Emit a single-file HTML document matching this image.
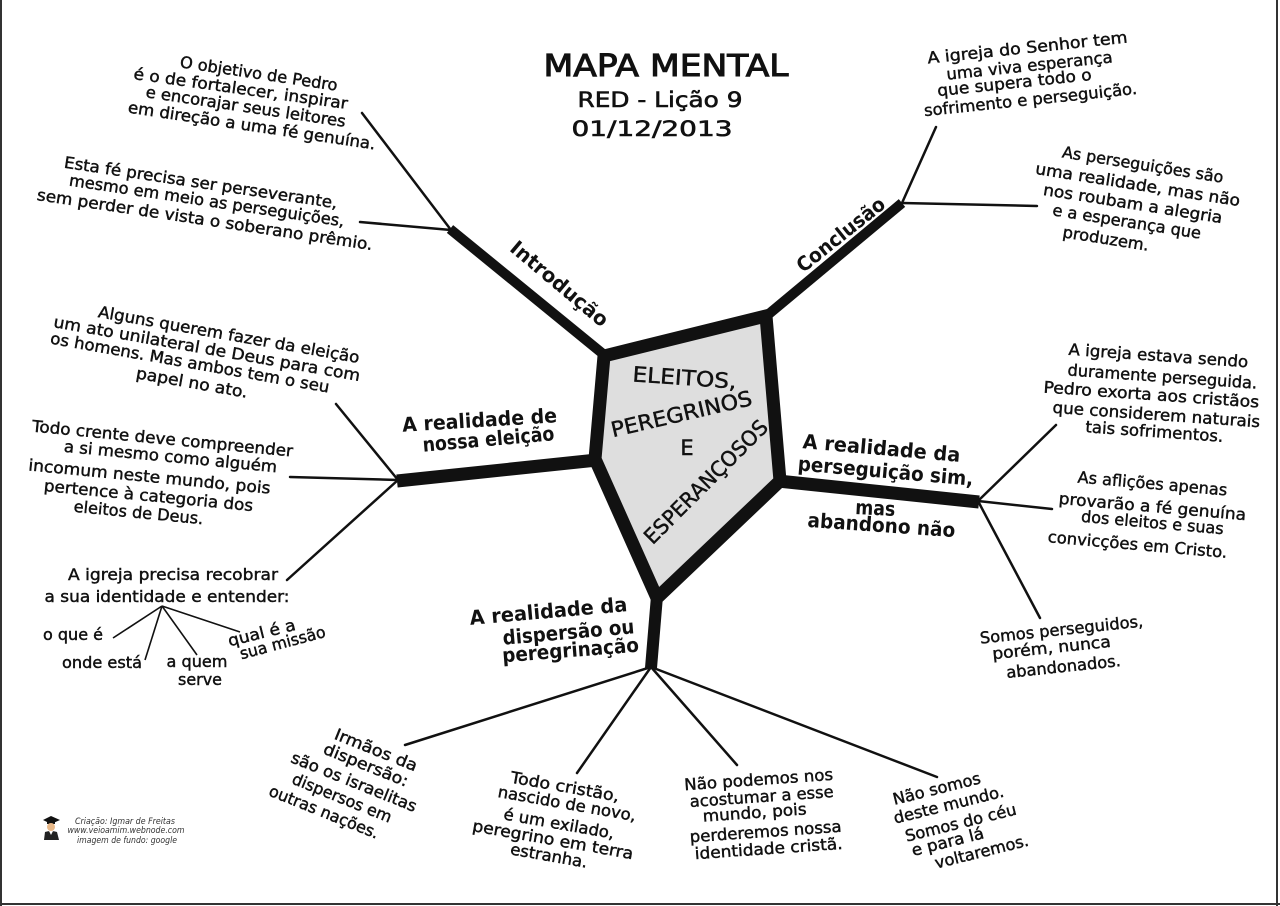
<!DOCTYPE html>
<html>
<head>
<meta charset="utf-8">
<style>
  html,body{margin:0;padding:0;background:#fff;}
  svg{display:block;}
  text{font-family:"DejaVu Sans","Liberation Sans",sans-serif;fill:#111;text-anchor:middle;}
  .b{font-size:16px;stroke:#111;stroke-width:0.45;}
  .l{font-size:20px;font-weight:bold;}
  .p{font-size:21px;stroke:#111;stroke-width:0.45;}
  .c{font-size:8.5px;font-style:italic;fill:#333;}
</style>
</head>
<body>
<svg width="1280" height="906" viewBox="0 0 1280 906" xmlns="http://www.w3.org/2000/svg">
  <rect x="0" y="0" width="1280" height="906" fill="#fff"/>
  <!-- frame -->
  <line x1="1" y1="0" x2="1" y2="906" stroke="#333" stroke-width="2"/>
  <line x1="1277" y1="0" x2="1277" y2="906" stroke="#333" stroke-width="2"/>
  <line x1="0" y1="904" x2="1280" y2="904" stroke="#333" stroke-width="2"/>

  <!-- title -->
  <text x="666" y="76" font-size="30" stroke="#111" stroke-width="1" textLength="245" lengthAdjust="spacingAndGlyphs">MAPA MENTAL</text>
  <text x="660" y="107" font-size="21" stroke="#111" stroke-width="0.6" textLength="165" lengthAdjust="spacingAndGlyphs">RED - Lição 9</text>
  <text x="652" y="136" font-size="21" stroke="#111" stroke-width="0.6" textLength="161" lengthAdjust="spacingAndGlyphs">01/12/2013</text>

  <!-- thick branches -->
  <g stroke="#111" stroke-linecap="butt" fill="none">
    <line x1="450" y1="229" x2="608" y2="358" stroke-width="10"/>
    <line x1="902" y1="203" x2="764" y2="318" stroke-width="10"/>
    <line x1="397" y1="481" x2="597" y2="460" stroke-width="13"/>
    <line x1="778" y1="481" x2="979" y2="502" stroke-width="13"/>
    <line x1="657" y1="596" x2="651" y2="668" stroke-width="12"/>
  </g>

  <!-- thin branches -->
  <g stroke="#111" stroke-width="2.5" stroke-linecap="round" fill="none">
    <line x1="451" y1="230" x2="362" y2="113"/>
    <line x1="451" y1="230" x2="360" y2="222"/>
    <line x1="902" y1="203" x2="936" y2="127"/>
    <line x1="902" y1="203" x2="1037" y2="206"/>
    <line x1="398" y1="480" x2="336" y2="404"/>
    <line x1="398" y1="480" x2="290" y2="477"/>
    <line x1="398" y1="480" x2="287" y2="580"/>
    <line x1="978" y1="501" x2="1056" y2="425"/>
    <line x1="978" y1="501" x2="1052" y2="509"/>
    <line x1="978" y1="501" x2="1040" y2="618"/>
    <line x1="651" y1="667" x2="405" y2="745"/>
    <line x1="651" y1="667" x2="577" y2="773"/>
    <line x1="651" y1="667" x2="737" y2="765"/>
    <line x1="651" y1="667" x2="937" y2="777"/>
  </g>
  <g stroke="#111" stroke-width="1.6" fill="none">
    <line x1="162" y1="606" x2="113" y2="638"/>
    <line x1="162" y1="606" x2="145" y2="660"/>
    <line x1="162" y1="606" x2="197" y2="655"/>
    <line x1="162" y1="606" x2="240" y2="632"/>
  </g>

  <!-- central pentagon -->
  <polygon points="604,356 766,316 780,481 657,598 595,459" fill="#dedede" stroke="#111" stroke-width="13" stroke-linejoin="miter"/>
  <text class="p" x="684" y="385" transform="rotate(4 684 385)" textLength="104" lengthAdjust="spacingAndGlyphs">ELEITOS,</text>
  <text class="p" x="683" y="421" transform="rotate(-13 683 421)" textLength="144" lengthAdjust="spacingAndGlyphs">PEREGRINOS</text>
  <text class="p" x="687" y="455">E</text>
  <text class="p" x="711" y="487" transform="rotate(-45 711 487)" textLength="165" lengthAdjust="spacingAndGlyphs">ESPERANÇOSOS</text>

  <!-- branch labels -->
  <text class="l" x="555" y="289" font-size="18" transform="rotate(40 555 289)" textLength="121" lengthAdjust="spacingAndGlyphs">Introdução</text>
  <text class="l" x="845" y="240" font-size="18" transform="rotate(-38.6 845 240)" textLength="107" lengthAdjust="spacingAndGlyphs">Conclusão</text>

  <text class="l" x="480" y="427" transform="rotate(-3.5 480 427)" textLength="155" lengthAdjust="spacingAndGlyphs">A realidade de</text>
  <text class="l" x="489" y="446" transform="rotate(-5 489 446)" textLength="132" lengthAdjust="spacingAndGlyphs">nossa eleição</text>

  <text class="l" x="881" y="455" transform="rotate(5 881 455)" textLength="158" lengthAdjust="spacingAndGlyphs">A realidade da</text>
  <text class="l" x="885" y="478" transform="rotate(5 885 478)" textLength="176" lengthAdjust="spacingAndGlyphs">perseguição sim,</text>
  <text class="l" x="875" y="515" transform="rotate(3 875 515)" textLength="40" lengthAdjust="spacingAndGlyphs">mas</text>
  <text class="l" x="881" y="532" transform="rotate(4 881 532)" textLength="148" lengthAdjust="spacingAndGlyphs">abandono não</text>

  <text class="l" x="549" y="618" transform="rotate(-5 549 618)" textLength="158" lengthAdjust="spacingAndGlyphs">A realidade da</text>
  <text class="l" x="569" y="639" transform="rotate(-5 569 639)" textLength="132" lengthAdjust="spacingAndGlyphs">dispersão ou</text>
  <text class="l" x="571" y="657" transform="rotate(-4.5 571 657)" textLength="137" lengthAdjust="spacingAndGlyphs">peregrinação</text>

  <!-- Block A -->
  <text class="b" x="258" y="79" transform="rotate(8.5 258 79)" textLength="159" lengthAdjust="spacingAndGlyphs">O objetivo de Pedro</text>
  <text class="b" x="240" y="94" transform="rotate(8 240 94)" textLength="216" lengthAdjust="spacingAndGlyphs">é o de fortalecer, inspirar</text>
  <text class="b" x="245" y="112" transform="rotate(8.5 245 112)" textLength="202" lengthAdjust="spacingAndGlyphs">e encorajar seus leitores</text>
  <text class="b" x="251" y="131" transform="rotate(8.5 251 131)" textLength="250" lengthAdjust="spacingAndGlyphs">em direção a uma fé genuína.</text>

  <!-- Block B -->
  <text class="b" x="200" y="188" transform="rotate(8.5 200 188)" textLength="276" lengthAdjust="spacingAndGlyphs">Esta fé precisa ser perseverante,</text>
  <text class="b" x="206" y="206" transform="rotate(8.5 206 206)" textLength="278" lengthAdjust="spacingAndGlyphs">mesmo em meio as perseguições,</text>
  <text class="b" x="204" y="225" transform="rotate(8.5 204 225)" textLength="339" lengthAdjust="spacingAndGlyphs">sem perder de vista o soberano prêmio.</text>

  <!-- Block C -->
  <text class="b" x="1028" y="53" transform="rotate(-6 1028 53)" textLength="201" lengthAdjust="spacingAndGlyphs">A igreja do Senhor tem</text>
  <text class="b" x="1030" y="71" transform="rotate(-6 1030 71)" textLength="167" lengthAdjust="spacingAndGlyphs">uma viva esperança</text>
  <text class="b" x="1015" y="88" transform="rotate(-6 1015 88)" textLength="155" lengthAdjust="spacingAndGlyphs">que supera todo o</text>
  <text class="b" x="1031" y="105" transform="rotate(-6 1031 105)" textLength="214" lengthAdjust="spacingAndGlyphs">sofrimento e perseguição.</text>

  <!-- Block D -->
  <text class="b" x="1142" y="170" transform="rotate(9 1142 170)" textLength="163" lengthAdjust="spacingAndGlyphs">As perseguições são</text>
  <text class="b" x="1137" y="190" transform="rotate(9 1137 190)" textLength="207" lengthAdjust="spacingAndGlyphs">uma realidade, mas não</text>
  <text class="b" x="1132" y="209" transform="rotate(9 1132 209)" textLength="181" lengthAdjust="spacingAndGlyphs">nos roubam a alegria</text>
  <text class="b" x="1126" y="227" transform="rotate(9 1126 227)" textLength="150" lengthAdjust="spacingAndGlyphs">e a esperança que</text>
  <text class="b" x="1105" y="244" transform="rotate(9 1105 244)" textLength="87" lengthAdjust="spacingAndGlyphs">produzem.</text>

  <!-- Block E -->
  <text class="b" x="228" y="340" transform="rotate(10 228 340)" textLength="265" lengthAdjust="spacingAndGlyphs">Alguns querem fazer da eleição</text>
  <text class="b" x="206" y="354" transform="rotate(10 206 354)" textLength="311" lengthAdjust="spacingAndGlyphs">um ato unilateral de Deus para com</text>
  <text class="b" x="189" y="368" transform="rotate(10 189 368)" textLength="283" lengthAdjust="spacingAndGlyphs">os homens. Mas ambos tem o seu</text>
  <text class="b" x="191" y="388" transform="rotate(10 191 388)" textLength="113" lengthAdjust="spacingAndGlyphs">papel no ato.</text>

  <!-- Block F -->
  <text class="b" x="162" y="444" transform="rotate(5.5 162 444)" textLength="262" lengthAdjust="spacingAndGlyphs">Todo crente deve compreender</text>
  <text class="b" x="170" y="462" transform="rotate(5.5 170 462)" textLength="214" lengthAdjust="spacingAndGlyphs">a si mesmo como alguém</text>
  <text class="b" x="149" y="482" transform="rotate(5.5 149 482)" textLength="243" lengthAdjust="spacingAndGlyphs">incomum neste mundo, pois</text>
  <text class="b" x="148" y="501" transform="rotate(5.5 148 501)" textLength="210" lengthAdjust="spacingAndGlyphs">pertence à categoria dos</text>
  <text class="b" x="138" y="518" transform="rotate(5.5 138 518)" textLength="130" lengthAdjust="spacingAndGlyphs">eleitos de Deus.</text>

  <!-- Block G -->
  <text class="b" x="173" y="580" textLength="210" lengthAdjust="spacingAndGlyphs">A igreja precisa recobrar</text>
  <text class="b" x="167" y="602" textLength="245" lengthAdjust="spacingAndGlyphs">a sua identidade e entender:</text>
  <text class="b" x="73" y="640" textLength="60" lengthAdjust="spacingAndGlyphs">o que é</text>
  <text class="b" x="102" y="668" textLength="80" lengthAdjust="spacingAndGlyphs">onde está</text>
  <text class="b" x="197" y="667" textLength="61" lengthAdjust="spacingAndGlyphs">a quem</text>
  <text class="b" x="200" y="685" textLength="44" lengthAdjust="spacingAndGlyphs">serve</text>
  <text class="b" x="263" y="638" transform="rotate(-14 263 638)" textLength="69" lengthAdjust="spacingAndGlyphs">qual é a</text>
  <text class="b" x="284" y="648" transform="rotate(-15 284 648)" textLength="88" lengthAdjust="spacingAndGlyphs">sua missão</text>

  <!-- Block H -->
  <text class="b" x="1158" y="361" transform="rotate(4 1158 361)" textLength="180" lengthAdjust="spacingAndGlyphs">A igreja estava sendo</text>
  <text class="b" x="1162" y="382" transform="rotate(4 1162 382)" textLength="190" lengthAdjust="spacingAndGlyphs">duramente perseguida.</text>
  <text class="b" x="1151" y="400" transform="rotate(4 1151 400)" textLength="216" lengthAdjust="spacingAndGlyphs">Pedro exorta aos cristãos</text>
  <text class="b" x="1156" y="420" transform="rotate(4 1156 420)" textLength="208" lengthAdjust="spacingAndGlyphs">que considerem naturais</text>
  <text class="b" x="1154" y="437" transform="rotate(4 1154 437)" textLength="138" lengthAdjust="spacingAndGlyphs">tais sofrimentos.</text>

  <!-- Block I -->
  <text class="b" x="1152" y="489" transform="rotate(5 1152 489)" textLength="150" lengthAdjust="spacingAndGlyphs">As aflições apenas</text>
  <text class="b" x="1152" y="512" transform="rotate(5 1152 512)" textLength="188" lengthAdjust="spacingAndGlyphs">provarão a fé genuína</text>
  <text class="b" x="1152" y="528" transform="rotate(5 1152 528)" textLength="143" lengthAdjust="spacingAndGlyphs">dos eleitos e suas</text>
  <text class="b" x="1137" y="550" transform="rotate(5 1137 550)" textLength="180" lengthAdjust="spacingAndGlyphs">convicções em Cristo.</text>

  <!-- Block J -->
  <text class="b" x="1062" y="635" transform="rotate(-6 1062 635)" textLength="164" lengthAdjust="spacingAndGlyphs">Somos perseguidos,</text>
  <text class="b" x="1052" y="653" transform="rotate(-6 1052 653)" textLength="119" lengthAdjust="spacingAndGlyphs">porém, nunca</text>
  <text class="b" x="1064" y="672" transform="rotate(-6 1064 672)" textLength="115" lengthAdjust="spacingAndGlyphs">abandonados.</text>

  <!-- Block K -->
  <text class="b" x="374" y="755" transform="rotate(22 374 755)" textLength="88" lengthAdjust="spacingAndGlyphs">Irmãos da</text>
  <text class="b" x="364" y="770" transform="rotate(22 364 770)" textLength="90" lengthAdjust="spacingAndGlyphs">dispersão:</text>
  <text class="b" x="352" y="787" transform="rotate(22 352 787)" textLength="134" lengthAdjust="spacingAndGlyphs">são os israelitas</text>
  <text class="b" x="340" y="803" transform="rotate(22 340 803)" textLength="106" lengthAdjust="spacingAndGlyphs">dispersos em</text>
  <text class="b" x="322" y="817" transform="rotate(22 322 817)" textLength="117" lengthAdjust="spacingAndGlyphs">outras nações.</text>

  <!-- Block L -->
  <text class="b" x="564" y="792" transform="rotate(10 564 792)" textLength="110" lengthAdjust="spacingAndGlyphs">Todo cristão,</text>
  <text class="b" x="566" y="809" transform="rotate(10 566 809)" textLength="140" lengthAdjust="spacingAndGlyphs">nascido de novo,</text>
  <text class="b" x="558" y="829" transform="rotate(10 558 829)" textLength="112" lengthAdjust="spacingAndGlyphs">é um exilado,</text>
  <text class="b" x="552" y="845" transform="rotate(10 552 845)" textLength="163" lengthAdjust="spacingAndGlyphs">peregrino em terra</text>
  <text class="b" x="548" y="861" transform="rotate(10 548 861)" textLength="78" lengthAdjust="spacingAndGlyphs">estranha.</text>

  <!-- Block M -->
  <text class="b" x="759" y="785" transform="rotate(-4 759 785)" textLength="149" lengthAdjust="spacingAndGlyphs">Não podemos nos</text>
  <text class="b" x="762" y="802" transform="rotate(-4 762 802)" textLength="144" lengthAdjust="spacingAndGlyphs">acostumar a esse</text>
  <text class="b" x="755" y="818" transform="rotate(-4 755 818)" textLength="104" lengthAdjust="spacingAndGlyphs">mundo, pois</text>
  <text class="b" x="766" y="837" transform="rotate(-4 766 837)" textLength="152" lengthAdjust="spacingAndGlyphs">perderemos nossa</text>
  <text class="b" x="769" y="854" transform="rotate(-4 769 854)" textLength="148" lengthAdjust="spacingAndGlyphs">identidade cristã.</text>

  <!-- Block N -->
  <text class="b" x="938" y="794" transform="rotate(-14 938 794)" textLength="90" lengthAdjust="spacingAndGlyphs">Não somos</text>
  <text class="b" x="950" y="810" transform="rotate(-14 950 810)" textLength="113" lengthAdjust="spacingAndGlyphs">deste mundo.</text>
  <text class="b" x="962" y="828" transform="rotate(-14 962 828)" textLength="114" lengthAdjust="spacingAndGlyphs">Somos do céu</text>
  <text class="b" x="949" y="847" transform="rotate(-14 949 847)" textLength="74" lengthAdjust="spacingAndGlyphs">e para lá</text>
  <text class="b" x="983" y="857" transform="rotate(-14 983 857)" textLength="96" lengthAdjust="spacingAndGlyphs">voltaremos.</text>

  <!-- credit -->
  <g>
    <polygon points="43,820 51,816 60,820 51,824" fill="#111"/>
    <rect x="47" y="821" width="8" height="3" fill="#111"/>
    <circle cx="51" cy="827" r="4" fill="#e8b888"/>
    <path d="M44,840 L45,832 Q51,830 57,832 L59,840 Z" fill="#222"/>
    <path d="M49,831 L51,835 L53,831 Z" fill="#fff"/>
  </g>
  <text class="c" x="125" y="824" textLength="100" lengthAdjust="spacingAndGlyphs">Criação: Igmar de Freitas</text>
  <text class="c" x="126" y="833" textLength="117" lengthAdjust="spacingAndGlyphs">www.veioamim.webnode.com</text>
  <text class="c" x="127" y="843" textLength="100" lengthAdjust="spacingAndGlyphs">imagem de fundo: google</text>
</svg>
</body>
</html>
